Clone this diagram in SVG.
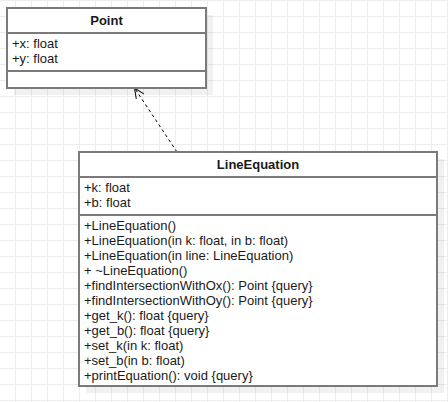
<svg xmlns="http://www.w3.org/2000/svg" width="448" height="402" viewBox="0 0 448 402">
  <defs>
    <pattern id="grid" x="15" y="0" width="16" height="16" patternUnits="userSpaceOnUse">
      <path d="M0.5 0 V16 M0 0.5 H16" fill="none" stroke="#ededed" stroke-width="1"/>
    </pattern>
    <marker id="open" markerUnits="userSpaceOnUse" markerWidth="14" markerHeight="12" refX="11" refY="6" orient="auto" overflow="visible">
      <path d="M1,1.5 L11,6 L1,10.5" fill="none" stroke="#000" stroke-width="1"/>
    </marker>
    <style>
      .box { fill: #ffffff; stroke: #7a7a7a; stroke-width: 2; }
      .sep { stroke: #7a7a7a; stroke-width: 2; }
      .shadow { fill: #000; fill-opacity: 0.055; }
      .title { font-family: "Liberation Sans", Arial, sans-serif; font-size: 13px; font-weight: bold; fill: #1a1a1a; text-anchor: middle; }
      .txt { font-family: "Liberation Sans", Arial, sans-serif; font-size: 13px; fill: #1a1a1a; }
      .edge { fill: none; stroke: #000; stroke-width: 1; stroke-dasharray: 3 3; }
    </style>
  </defs>
  <rect width="448" height="402" fill="#ffffff"/>
  <rect width="448" height="402" fill="url(#grid)"/>

  <g id="connectors">
    <path class="edge" d="M177,152 L134.5,88" marker-end="url(#open)"/>
  </g>

  <g id="Point">
    <rect class="shadow" x="14" y="15" width="199" height="80"/>
    <rect class="box" x="7" y="8" width="199" height="80"/>
    <line class="sep" x1="7" y1="33" x2="206" y2="33"/>
    <line class="sep" x1="7" y1="71" x2="206" y2="71"/>
    <text class="title" x="106.5" y="25">Point</text>
    <text class="txt" x="12" y="48">+x: float</text>
    <text class="txt" x="12" y="63">+y: float</text>
  </g>

  <g id="LineEquation">
    <rect class="shadow" x="86" y="159" width="358" height="234"/>
    <rect class="box" x="79" y="152" width="358" height="234"/>
    <line class="sep" x1="79" y1="177" x2="437" y2="177"/>
    <line class="sep" x1="79" y1="215" x2="437" y2="215"/>
    <text class="title" x="258" y="169">LineEquation</text>
    <text class="txt" x="84" y="192">+k: float</text>
    <text class="txt" x="84" y="207">+b: float</text>
    <text class="txt" x="84" y="230">+LineEquation()</text>
    <text class="txt" x="84" y="245">+LineEquation(in k: float, in b: float)</text>
    <text class="txt" x="84" y="260">+LineEquation(in line: LineEquation)</text>
    <text class="txt" x="84" y="275">+ ~LineEquation()</text>
    <text class="txt" x="84" y="290">+findIntersectionWithOx(): Point {query}</text>
    <text class="txt" x="84" y="305">+findIntersectionWithOy(): Point {query}</text>
    <text class="txt" x="84" y="320">+get_k(): float {query}</text>
    <text class="txt" x="84" y="335">+get_b(): float {query}</text>
    <text class="txt" x="84" y="350">+set_k(in k: float)</text>
    <text class="txt" x="84" y="365">+set_b(in b: float)</text>
    <text class="txt" x="84" y="380">+printEquation(): void {query}</text>
  </g>
</svg>
